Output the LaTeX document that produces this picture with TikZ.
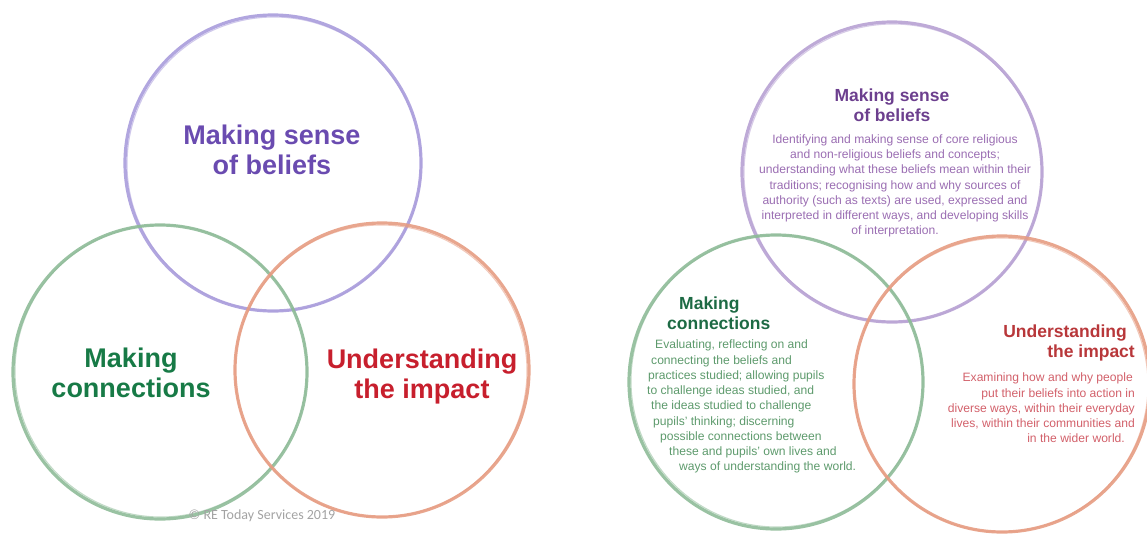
\documentclass[tikz,border=0pt]{standalone}
\usepackage{fontspec}
\setmainfont{Liberation Sans}
\newfontfamily\cali{Carlito}
\definecolor{cpurL}{HTML}{A99CDB}
\definecolor{cpurR}{HTML}{B7A1D3}
\definecolor{cgrn}{HTML}{8EBB98}
\definecolor{corg}{HTML}{E69C82}
\definecolor{tpurL}{HTML}{6A4BB0}
\definecolor{tpurR}{HTML}{6C3F8E}
\definecolor{bpur}{HTML}{9A6DB2}
\definecolor{tgrnL}{HTML}{177A46}
\definecolor{tgrnR}{HTML}{1D6A44}
\definecolor{bgrn}{HTML}{5D9A6C}
\definecolor{tredL}{HTML}{C71F2D}
\definecolor{tredR}{HTML}{B8373A}
\definecolor{bred}{HTML}{D2606A}
\definecolor{cgray}{HTML}{A3A3A3}
\begin{document}
\begin{tikzpicture}[x=1pt,y=-1pt,
  ring/.style={circle,draw=#1,line width=3.2pt,inner sep=0pt,draw opacity=0.9},
  ringb/.style={circle,draw=#1,line width=1.1pt,inner sep=0pt,draw opacity=0.55},
  bigtitle/.style={font=\fontsize{27}{30}\selectfont\bfseries,align=center,inner sep=0pt},
  smalltitle/.style={font=\fontsize{17.5}{20}\selectfont\bfseries,inner sep=0pt},
  body/.style={font=\fontsize{12.1}{15.25}\selectfont,inner sep=0pt}]
\useasboundingbox (0,0) rectangle (1147,533);
% left diagram
\node[ring=cpurL,minimum size=296pt] (lp) at (273,163) {};
\node[ringb=cpurL,minimum size=294pt] (lp2) at (274,164) {};
\node[ring=cgrn,minimum size=294pt] (lg) at (160,372) {};
\node[ringb=cgrn,minimum size=292pt] (lg2) at (161,371) {};
\node[ring=corg,minimum size=294pt] (lo) at (382,370) {};
\node[ringb=corg,minimum size=292pt] (lo2) at (381,371) {};
\node[bigtitle,text=tpurL] (lpt) at (272,150) {Making sense\\of beliefs};
\node[bigtitle,text=tgrnL] (lgt) at (131,373) {Making\\connections};
\node[bigtitle,text=tredL] (lot) at (422,377) {Understanding\\the impact};
\node[font=\cali\fontsize{14}{16}\selectfont,text=cgray,inner sep=0pt] (copy) at (262,516) {© RE Today Services 2019};
% right diagram
\node[ring=cpurR,minimum size=300pt] (rp) at (892,172) {};
\node[ringb=cpurR,minimum size=298pt] (rp2) at (893,173) {};
\node[ring=cgrn,minimum size=294pt] (rg) at (776,382) {};
\node[ringb=cgrn,minimum size=292pt] (rg2) at (777,381) {};
\node[ring=corg,minimum size=296pt] (ro) at (1002,384) {};
\node[ringb=corg,minimum size=294pt] (ro2) at (1001,385) {};
\node[smalltitle,align=center,text=tpurR] (rpt) at (892,105) {Making sense\\of beliefs};
\node[body,align=center,text=bpur] (rpb) at (895,186) {Identifying and making sense of core religious\\and non-religious beliefs and concepts;\\understanding what these beliefs mean within their\\traditions; recognising how and why sources of\\authority (such as texts) are used, expressed and\\interpreted in different ways, and developing skills\\of interpretation.};
\node[smalltitle,align=left,anchor=west,text=tgrnR] (rgt) at (667,313) {\hspace*{12pt}Making\\connections};
\node[body,align=left,anchor=north west,text=bgrn] (rgb) at (647,340) {\hspace*{8pt}Evaluating, reflecting on and\\\hspace*{4pt}connecting the beliefs and\\\hspace*{1pt}practices studied; allowing pupils\\to challenge ideas studied, and\\\hspace*{4pt}the ideas studied to challenge\\\hspace*{6pt}pupils' thinking; discerning\\\hspace*{13pt}possible connections between\\\hspace*{22pt}these and pupils' own lives and\\\hspace*{32pt}ways of understanding the world.};
\node[smalltitle,align=right,anchor=east,text=tredR] (rot) at (1135,343) {Understanding\hspace*{8pt}\\the impact};
\node[body,align=right,anchor=north east,text=bred] (rob) at (1135,373) {Examining how and why people\hspace*{2pt}\\put their beliefs into action in\\diverse ways, within their everyday\\lives, within their communities and\hspace*{2pt}\\in the wider world.\hspace*{10pt}};
\end{tikzpicture}
\end{document}
